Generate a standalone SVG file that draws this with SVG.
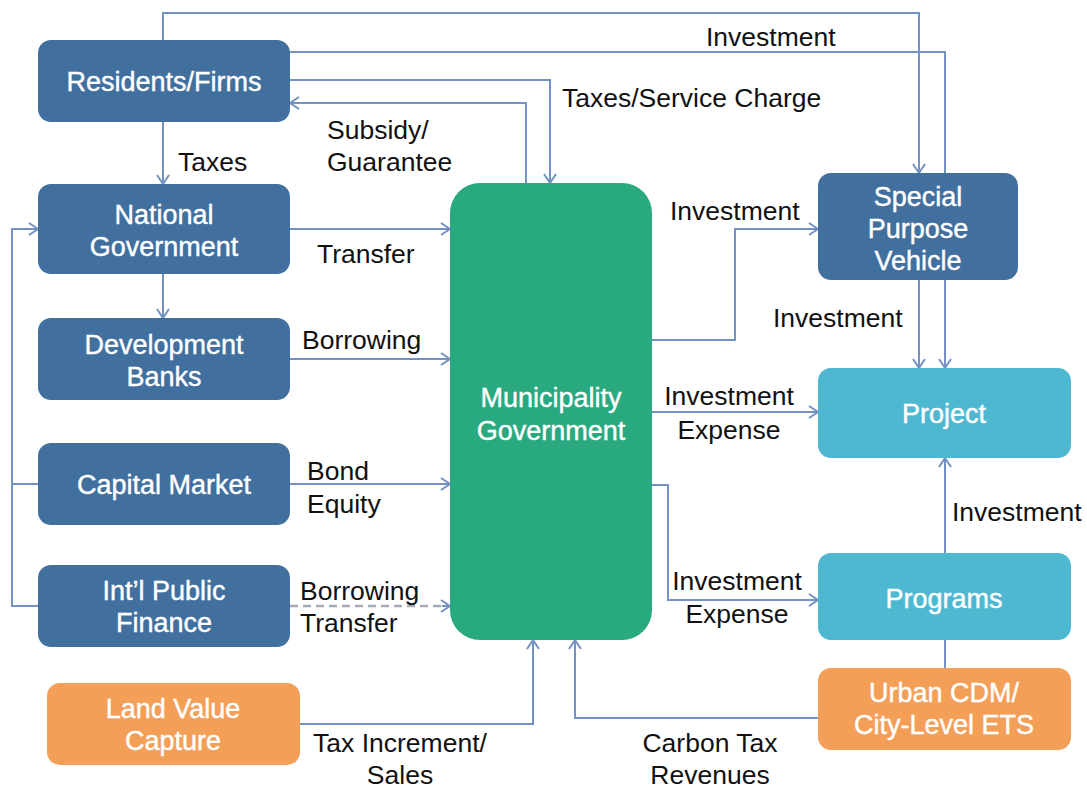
<svg xmlns="http://www.w3.org/2000/svg" width="1087" height="789" viewBox="0 0 1087 789">
<style>
.box rect{stroke:none}
.dk{fill:#41709F}
.gr{fill:#28A97F}
.lb{fill:#4FB8D1}
.or{fill:#F49F58}
.nt{font-family:"Liberation Sans",Arial,sans-serif;font-size:27px;fill:#ffffff;stroke:#ffffff;stroke-width:0.4;text-anchor:middle}
.lbl{font-family:"Liberation Sans",Arial,sans-serif;font-size:26.5px;fill:#111111}
.mid{text-anchor:middle}
.cn{fill:none;stroke:#7391C2;stroke-width:2}
.dash{fill:none;stroke:#A3ABB8;stroke-width:2.5;stroke-dasharray:8 5}
</style>
<defs>
<marker id="ar" markerWidth="12" markerHeight="14" refX="10" refY="7" orient="auto" markerUnits="userSpaceOnUse">
<path d="M1,1 L10,7 L1,13" fill="none" stroke="#7391C2" stroke-width="2"/>
</marker>
</defs>
<rect width="1087" height="789" fill="#ffffff"/>
<g id="connectors">
<polyline class="cn" points="163,40 163,13 919,13 919,173" marker-end="url(#ar)"/>
<polyline class="cn" points="290,52 945,52 945,368" marker-end="url(#ar)"/>
<polyline class="cn" points="290,80 550,80 550,183" marker-end="url(#ar)"/>
<polyline class="cn" points="526,183 526,103 290,103" marker-end="url(#ar)"/>
<line class="cn" x1="163" y1="122" x2="163" y2="184" marker-end="url(#ar)"/>
<line class="cn" x1="290" y1="229" x2="450" y2="229" marker-end="url(#ar)"/>
<line class="cn" x1="163" y1="274" x2="163" y2="318" marker-end="url(#ar)"/>
<line class="cn" x1="290" y1="359" x2="450" y2="359" marker-end="url(#ar)"/>
<line class="cn" x1="290" y1="484" x2="450" y2="484" marker-end="url(#ar)"/>
<line class="dash" x1="290" y1="606" x2="442" y2="606"/>
<line class="cn" x1="442" y1="606" x2="450" y2="606" marker-end="url(#ar)"/>
<polyline class="cn" points="38,606 12,606 12,229 38,229" marker-end="url(#ar)"/>
<line class="cn" x1="12" y1="484" x2="38" y2="484"/>
<polyline class="cn" points="300,724 533,724 533,640" marker-end="url(#ar)"/>
<polyline class="cn" points="818,718 575,718 575,640" marker-end="url(#ar)"/>
<polyline class="cn" points="652,340 735,340 735,229 818,229" marker-end="url(#ar)"/>
<line class="cn" x1="919" y1="280" x2="919" y2="368" marker-end="url(#ar)"/>
<line class="cn" x1="652" y1="412" x2="818" y2="412" marker-end="url(#ar)"/>
<polyline class="cn" points="652,485 668,485 668,600 818,600" marker-end="url(#ar)"/>
<line class="cn" x1="945" y1="553" x2="945" y2="458" marker-end="url(#ar)"/>
<line class="cn" x1="945" y1="640" x2="945" y2="668"/>
</g>
<g id="residents" class="box"><rect class="dk" x="38" y="40" width="252" height="82" rx="13"/><text class="nt" x="164" y="91">Residents/Firms</text></g>
<g id="national" class="box"><rect class="dk" x="38" y="184" width="252" height="90" rx="13"/><text class="nt" x="164" y="224">National</text><text class="nt" x="164" y="256">Government</text></g>
<g id="devbanks" class="box"><rect class="dk" x="38" y="318" width="252" height="82" rx="13"/><text class="nt" x="164" y="354">Development</text><text class="nt" x="164" y="386">Banks</text></g>
<g id="capital" class="box"><rect class="dk" x="38" y="443" width="252" height="82" rx="13"/><text class="nt" x="164" y="494">Capital Market</text></g>
<g id="intl" class="box"><rect class="dk" x="38" y="565" width="252" height="82" rx="13"/><text class="nt" x="164" y="600">Int’l Public</text><text class="nt" x="164" y="632">Finance</text></g>
<g id="landvalue" class="box"><rect class="or" x="47" y="683" width="253" height="82" rx="13"/><text class="nt" x="173" y="718">Land Value</text><text class="nt" x="173" y="750">Capture</text></g>
<g id="municipality" class="box"><rect class="gr" x="450" y="183" width="202" height="457" rx="30"/><text class="nt" x="551" y="407">Municipality</text><text class="nt" x="551" y="440">Government</text></g>
<g id="spv" class="box"><rect class="dk" x="818" y="173" width="200" height="107" rx="13"/><text class="nt" x="918" y="206">Special</text><text class="nt" x="918" y="238">Purpose</text><text class="nt" x="918" y="270">Vehicle</text></g>
<g id="project" class="box"><rect class="lb" x="818" y="368" width="253" height="90" rx="13"/><text class="nt" x="944" y="423">Project</text></g>
<g id="programs" class="box"><rect class="lb" x="818" y="553" width="253" height="87" rx="13"/><text class="nt" x="944" y="608">Programs</text></g>
<g id="urbancdm" class="box"><rect class="or" x="818" y="668" width="253" height="82" rx="13"/><text class="nt" x="944" y="702">Urban CDM/</text><text class="nt" x="944" y="734">City-Level ETS</text></g>
<g id="labels">
<text class="lbl" x="706" y="46">Investment</text>
<text class="lbl" x="562" y="107">Taxes/Service Charge</text>
<text class="lbl" x="327" y="139">Subsidy/</text>
<text class="lbl" x="327" y="171">Guarantee</text>
<text class="lbl" x="178" y="171">Taxes</text>
<text class="lbl" x="317" y="263">Transfer</text>
<text class="lbl" x="302" y="349">Borrowing</text>
<text class="lbl" x="307" y="480">Bond</text>
<text class="lbl" x="307" y="513">Equity</text>
<text class="lbl" x="300" y="600">Borrowing</text>
<text class="lbl" x="300" y="632">Transfer</text>
<text class="lbl mid" x="400" y="752">Tax Increment/</text>
<text class="lbl mid" x="400" y="784">Sales</text>
<text class="lbl mid" x="710" y="752">Carbon Tax</text>
<text class="lbl mid" x="710" y="784">Revenues</text>
<text class="lbl" x="670" y="220">Investment</text>
<text class="lbl" x="773" y="327">Investment</text>
<text class="lbl mid" x="729" y="405">Investment</text>
<text class="lbl mid" x="729" y="439">Expense</text>
<text class="lbl mid" x="737" y="590">Investment</text>
<text class="lbl mid" x="737" y="623">Expense</text>
<text class="lbl" x="952" y="521">Investment</text>
</g>
</svg>
